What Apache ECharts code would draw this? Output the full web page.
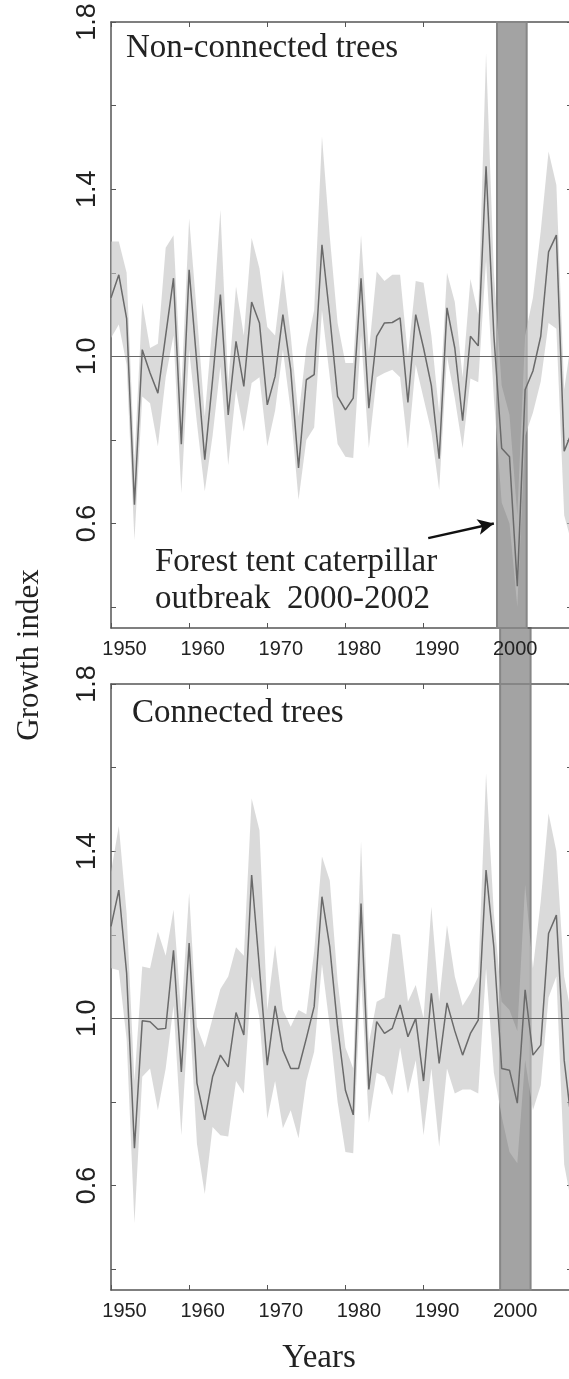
<!DOCTYPE html>
<html><head><meta charset="utf-8">
<script src="https://cdn.jsdelivr.net/npm/echarts@6/dist/echarts.min.js"></script>
<style>
html,body{margin:0;padding:0;background:#fff;overflow:hidden;width:569px;height:1379px}
#c{width:600px;height:1379px}
</style></head>
<body><div id="c"></div>
<script>
const years = [1950,1951,1952,1953,1954,1955,1956,1957,1958,1959,1960,1961,1962,1963,1964,1965,1966,1967,1968,1969,
1970,1971,1972,1973,1974,1975,1976,1977,1978,1979,1980,1981,1982,1983,1984,1985,1986,1987,1988,1989,
1990,1991,1992,1993,1994,1995,1996,1997,1998,1999,2000,2001,2002,2003,2004,2005,2006,2007,2008,2009];

// Non-connected trees
const nonMean = [1.14,1.195,1.09,0.645,1.016,0.96,0.912,1.05,1.187,0.79,1.207,0.98,0.753,0.944,1.148,0.86,1.036,0.928,1.13,1.08,
0.884,0.952,1.10,0.968,0.733,0.944,0.956,1.267,1.096,0.904,0.872,0.90,1.187,0.876,1.048,1.08,1.081,1.092,0.89,1.10,
1.02,0.93,0.755,1.116,1.02,0.846,1.048,1.025,1.455,1.05,0.78,0.76,0.45,0.92,0.965,1.048,1.25,1.29,0.773,0.82];
const nonUpper = [1.275,1.275,1.20,0.75,1.128,1.02,1.03,1.26,1.29,0.92,1.33,1.10,0.856,1.08,1.35,0.936,1.167,1.05,1.283,1.21,
1.07,1.05,1.207,1.05,0.856,1.02,1.11,1.526,1.287,1.08,0.984,0.984,1.29,1.01,1.203,1.18,1.195,1.195,1.0,1.18,
1.176,1.05,0.864,1.20,1.13,0.95,1.185,1.10,1.725,1.2,0.93,0.86,0.62,1.05,1.14,1.30,1.49,1.41,0.92,1.05];
const nonLower = [1.044,1.076,0.98,0.56,0.904,0.888,0.785,0.95,1.05,0.673,1.016,0.84,0.677,0.81,0.976,0.74,0.92,0.82,0.936,0.95,
0.785,0.87,1.016,0.87,0.657,0.80,0.83,1.11,0.95,0.79,0.76,0.757,1.05,0.78,0.95,0.96,0.968,0.95,0.78,0.98,
0.90,0.82,0.68,1.0,0.90,0.78,0.947,0.938,1.23,0.9,0.65,0.60,0.40,0.81,0.865,0.94,1.08,1.066,0.62,0.55];

// Connected trees
const conMean = [1.22,1.307,1.108,0.689,0.994,0.992,0.974,0.976,1.163,0.872,1.18,0.845,0.757,0.86,0.912,0.884,1.014,0.96,1.343,1.12,
0.888,1.03,0.924,0.88,0.88,0.952,1.028,1.291,1.171,0.98,0.828,0.769,1.275,0.83,0.992,0.964,0.976,1.032,0.956,1.0,
0.85,1.06,0.892,1.037,0.97,0.912,0.964,0.996,1.355,1.17,0.88,0.876,0.797,1.068,0.912,0.936,1.203,1.247,0.90,0.74];
const conUpper = [1.35,1.46,1.25,0.85,1.124,1.12,1.207,1.15,1.26,1.01,1.30,0.98,0.93,1.0,1.07,1.10,1.17,1.15,1.526,1.45,
1.02,1.175,1.02,0.98,1.02,1.01,1.16,1.387,1.33,1.09,0.93,0.88,1.423,0.94,1.04,1.05,1.203,1.20,1.04,1.08,
1.0,1.267,1.04,1.223,1.10,1.03,1.06,1.10,1.586,1.25,1.04,1.02,0.97,1.32,1.12,1.28,1.49,1.40,1.1,1.0];
const conLower = [1.12,1.115,0.95,0.51,0.86,0.88,0.78,0.88,1.03,0.72,1.03,0.70,0.58,0.74,0.72,0.717,0.85,0.82,1.10,1.0,
0.76,0.85,0.737,0.78,0.713,0.85,0.92,1.13,0.98,0.80,0.68,0.677,1.10,0.75,0.87,0.86,0.816,0.93,0.82,0.90,
0.72,0.88,0.693,0.88,0.82,0.83,0.83,0.82,1.12,0.87,0.765,0.68,0.653,0.90,0.78,0.84,1.05,1.10,0.65,0.55];

const outbreakTop = [1999.4, 2003.2];
const outbreakBottom = [1999.8, 2003.7];
const arrowFrom = [1990.6, 0.565];
const arrowTo = [1999.0, 0.60];
const xTicks = [1950,1960,1970,1980,1990,2000];
const yTicks = [0.4,0.6,0.8,1.0,1.2,1.4,1.6,1.8];
const yLabels = [0.6,1.0,1.4,1.8];
const panelTitles = ['Non-connected trees','Connected trees'];

const chart = echarts.init(document.getElementById('c'), null, {renderer:'canvas'});

const grids = [
  {left:111, top:22, width:461, height:606},
  {left:111, top:684, width:461, height:606}
];
const axisCol = '#555';
const xAxes = [], yAxes = [], series = [];
const panels = [
  {mean:nonMean, up:nonUpper, lo:nonLower, band:outbreakTop},
  {mean:conMean, up:conUpper, lo:conLower, band:outbreakBottom}
];
panels.forEach((p, g) => {
  xAxes.push({
    type:'value', gridIndex:g, min:1950, max:2009, position:'bottom',
    axisLine:{show:true, lineStyle:{color:axisCol, width:1.5}},
    axisTick:{show:true, inside:true, length:5, customValues:xTicks, lineStyle:{color:axisCol}},
    axisLabel:{show:true, customValues:xTicks, formatter:v=>String(v), fontFamily:'Liberation Sans',
      fontSize:20, color:'#222', margin:11, padding:[0,0,0,27]},
    splitLine:{show:false}
  });
  xAxes.push({
    type:'value', gridIndex:g, min:1950, max:2009, position:'top',
    axisLine:{show:true, lineStyle:{color:axisCol, width:1.5}},
    axisTick:{show:true, inside:true, length:5, customValues:xTicks, lineStyle:{color:axisCol}},
    axisLabel:{show:false}, splitLine:{show:false}
  });
  yAxes.push({
    type:'value', gridIndex:g, min:0.35, max:1.8, position:'left',
    axisLine:{show:true, lineStyle:{color:axisCol, width:1.5}},
    axisTick:{show:true, inside:true, length:5, customValues:yTicks, lineStyle:{color:axisCol}},
    axisLabel:{show:true, customValues:yLabels, rotate:90, formatter:v=>v.toFixed(1),
      fontFamily:'Liberation Sans', fontSize:27, color:'#222', margin:10},
    splitLine:{show:false}
  });
  yAxes.push({
    type:'value', gridIndex:g, min:0.35, max:1.8, position:'right',
    axisLine:{show:true, lineStyle:{color:axisCol, width:1.5}},
    axisTick:{show:true, inside:true, length:5, customValues:yTicks, lineStyle:{color:axisCol}},
    axisLabel:{show:false}, splitLine:{show:false}
  });
  const xi = g*2, yi = g*2;
  // host series for the outbreak shading and the arrow
  series.push({
    type:'line', xAxisIndex:xi, yAxisIndex:yi, symbol:'none', z:1,
    data: years.map((y,i)=>[y, p.mean[i]]),
    lineStyle:{opacity:0}, silent:true,
    markArea:{silent:true, itemStyle:{color:'#a3a3a3', borderColor:'#868686', borderWidth:2},
      data:[[{xAxis:p.band[0]},{xAxis:p.band[1]}]]},
    markLine: g===0 ? {silent:true, symbol:['none','arrow'], symbolSize:[12,16],
      lineStyle:{color:'#111', width:2.5, type:'solid'}, label:{show:false},
      data:[[{coord:arrowFrom},{coord:arrowTo}]]} : undefined
  });
  // confidence band as one polygon through the axis scales
  series.push({
    type:'custom', xAxisIndex:xi, yAxisIndex:yi, z:2, silent:true, clip:true,
    data: years.map((y,i)=>[y, p.lo[i], p.up[i]]),
    encode:{x:0, y:[1,2]},
    renderItem:(params, api) => {
      if (params.dataIndex !== 0) return null;
      const pts = [];
      for (let i = 0; i < years.length; i++) pts.push(api.coord([years[i], p.up[i]]));
      for (let i = years.length - 1; i >= 0; i--) pts.push(api.coord([years[i], p.lo[i]]));
      return {type:'polygon', shape:{points:pts}, style:{fill:'rgba(196,196,196,0.62)'}};
    }
  });
  series.push({
    type:'line', xAxisIndex:xi, yAxisIndex:yi, symbol:'none', z:3,
    data: years.map((y,i)=>[y, p.mean[i]]),
    lineStyle:{color:'#6a6a6a', width:1.5}, silent:true,
    markLine:{silent:true, symbol:'none', lineStyle:{color:'#666', width:1.2, type:'solid'},
      label:{show:false}, data:[{yAxis:1.0}]}
  });
});

const baseGraphics = [
  {type:'text', left:126, top:32, style:{text:panelTitles[0], font:'33px "Liberation Serif"', fill:'#222'}},
  {type:'text', left:132, top:697, style:{text:panelTitles[1], font:'33px "Liberation Serif"', fill:'#222'}},
  {type:'text', left:155, top:546, style:{text:'Forest tent caterpillar', font:'33px "Liberation Serif"', fill:'#222'}},
  {type:'text', left:155, top:583, style:{text:'outbreak  2000-2002', font:'33px "Liberation Serif"', fill:'#222'}},
  {type:'text', x:30, y:655, rotation:Math.PI/2, style:{text:'Growth index', font:'31px "Liberation Serif"', fill:'#222', align:'center', verticalAlign:'middle'}},
  {type:'text', x:319, y:1358, style:{text:'Years', font:'33px "Liberation Serif"', fill:'#222', align:'center', verticalAlign:'middle'}}
];

chart.setOption({
  animation:false,
  backgroundColor:'#fff',
  grid: grids,
  xAxis: xAxes,
  yAxis: yAxes,
  series: series,
  graphic: baseGraphics
});

// gap band joining the two panels, positioned through the axes' own scales
const pTop = chart.convertToPixel({xAxisIndex:0, yAxisIndex:0}, [outbreakBottom[0], 0.35]);
const pTop2 = chart.convertToPixel({xAxisIndex:0, yAxisIndex:0}, [outbreakBottom[1], 0.35]);
const pBot = chart.convertToPixel({xAxisIndex:2, yAxisIndex:2}, [outbreakBottom[0], 1.8]);
chart.setOption({
  graphic: baseGraphics.concat([
    {type:'rect', z:-1, shape:{x:pTop[0], y:pTop[1], width:pTop2[0]-pTop[0], height:pBot[1]-pTop[1]},
     style:{fill:'#a3a3a3', stroke:'#868686', lineWidth:2}}
  ])
});
</script>
</body></html>
